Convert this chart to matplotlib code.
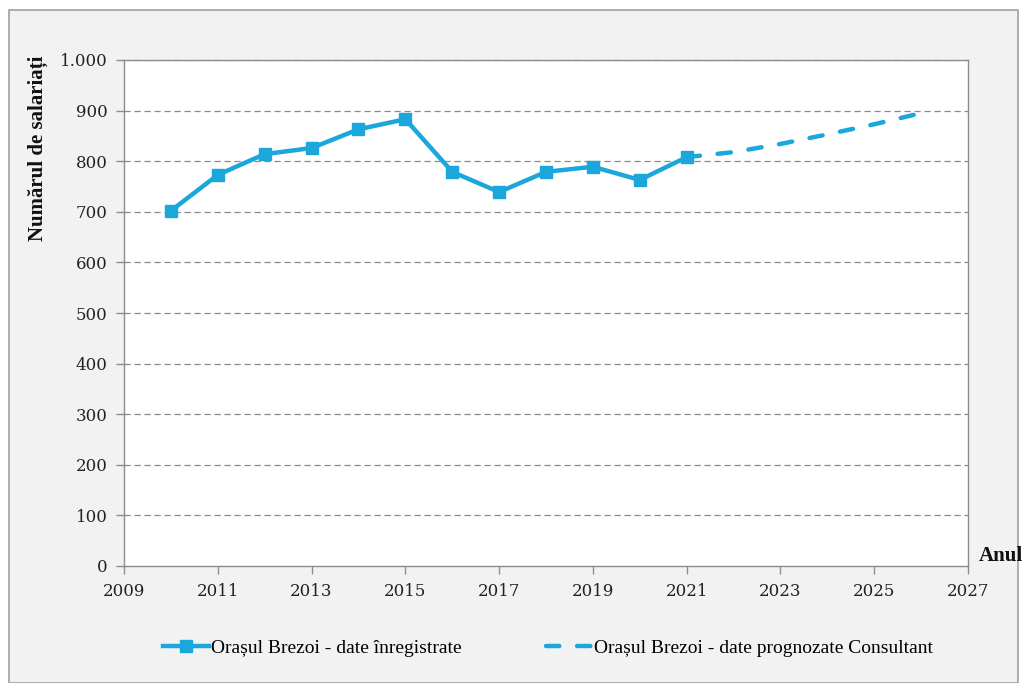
import matplotlib
matplotlib.use("Agg")
import matplotlib.pyplot as plt
from matplotlib.patches import Rectangle
from matplotlib.ticker import FuncFormatter, MultipleLocator

# Recorded number of employees, Brezoi town
years_recorded = [2010, 2011, 2012, 2013, 2014, 2015, 2016, 2017, 2018, 2019, 2020, 2021]
employees_recorded = [702, 773, 814, 826, 863, 883, 779, 739, 779, 789, 763, 808]

# Consultant forecast
years_forecast = [2021, 2022, 2023, 2024, 2025, 2026]
employees_forecast = [808, 818, 834, 853, 873, 895]

x_ticks = [2009, 2011, 2013, 2015, 2017, 2019, 2021, 2023, 2025, 2027]

label_recorded = "Orașul Brezoi - date înregistrate"
label_forecast = "Orașul Brezoi - date prognozate Consultant"
y_title = "Numărul de salariați"
x_title = "Anul"

LINE_COLOR = "#1ba6dc"
SERIF = ["Liberation Serif", "DejaVu Serif"]
TICK_FONT = ["DejaVu Serif"]

W, H = 1024, 683
fig = plt.figure(figsize=(W / 100, H / 100), dpi=100)
fig.patch.set_facecolor("white")

# outer chart frame
frame = Rectangle((9 / W, 0), (1018 - 9) / W, (H - 10) / H,
                  transform=fig.transFigure, facecolor="#f2f2f2",
                  edgecolor="#a0a0a0", linewidth=1.2, zorder=-10)
fig.add_artist(frame)

ax = fig.add_axes([124 / W, 1 - 566 / H, (968 - 124) / W, (566 - 60) / H])
ax.set_zorder(2)
ax.set_facecolor("white")

ax.plot(years_recorded, employees_recorded, color=LINE_COLOR, linewidth=3.2,
        marker="s", markersize=9, solid_joinstyle="round", label=label_recorded, zorder=3)
ax.plot(years_forecast, employees_forecast, color=LINE_COLOR, linewidth=3.2,
        linestyle=(0, (3, 4)), dash_capstyle="round", label=label_forecast, zorder=3)

ax.set_xlim(2009, 2027)
ax.set_ylim(0, 1000)
ax.set_xticks(x_ticks)
ax.set_xticklabels([str(t) for t in x_ticks])
ax.yaxis.set_major_locator(MultipleLocator(100))
ax.yaxis.set_major_formatter(FuncFormatter(lambda v, p: f"{int(v):,}".replace(",", ".")))

for v in range(100, 1001, 100):
    ax.axhline(v, color="#8a8a8a", linewidth=0.9, linestyle=(0, (5, 3)), zorder=1)

for s in ax.spines.values():
    s.set_color("#8c8c8c")
    s.set_linewidth(1.0)

ax.tick_params(axis="both", colors="#8c8c8c", length=6, width=1.0,
               labelcolor="#222222", labelsize=12)
ax.tick_params(axis="y", pad=6)
ax.tick_params(axis="x", pad=6)
for lbl in ax.get_xticklabels() + ax.get_yticklabels():
    lbl.set_fontfamily(TICK_FONT)

fig.text(38 / W, 1 - 148 / H, y_title, rotation=90, ha="center", va="center",
         fontsize=15, fontweight="bold", family=SERIF, color="#111111")
fig.text(1001 / W, 1 - 556 / H, x_title, ha="center", va="center",
         fontsize=15, fontweight="bold", family=SERIF, color="#111111")

fig.legend(loc="center", bbox_to_anchor=(548 / W, 1 - 648 / H), ncol=2,
           frameon=False, prop={"family": SERIF, "size": 14},
           handlelength=2.4, columnspacing=4.3, handletextpad=0.1)

fig.savefig("out.png", dpi=100)
